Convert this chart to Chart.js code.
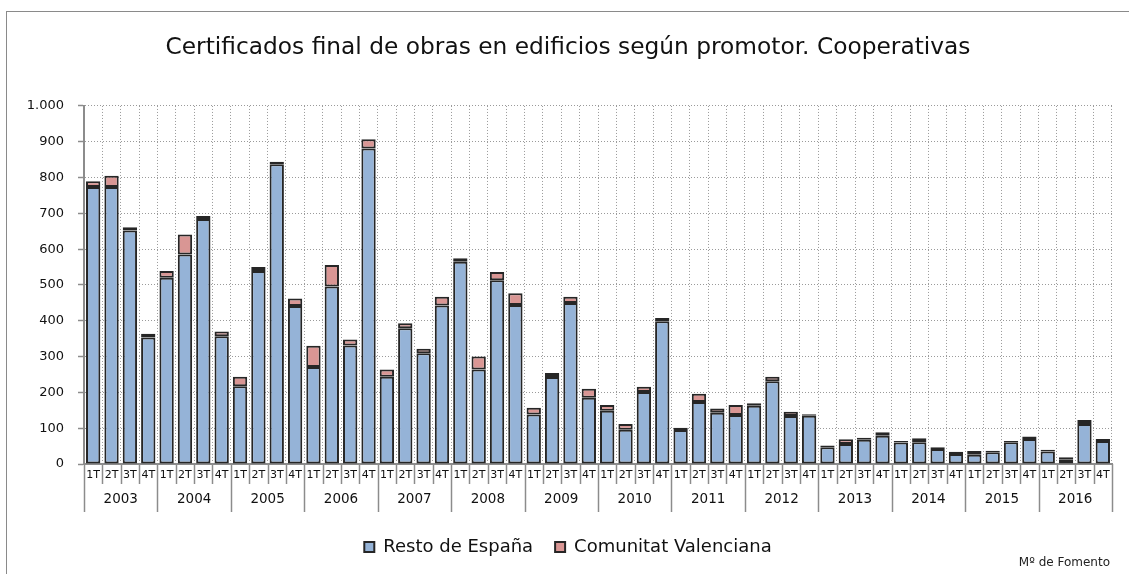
<!DOCTYPE html>
<html>
<head>
<meta charset="utf-8">
<script src="https://cdn.jsdelivr.net/npm/chart.js@4"></script>
<style>
  html, body { margin: 0; padding: 0; background: #fff; }
  #wrap { width: 1129px; height: 574px; }
</style>
</head>
<body>
<div id="wrap"><canvas id="chart"></canvas></div>
<script>
const quarters = ['1T', '2T', '3T', '4T'];
const years = ['2003', '2004', '2005', '2006', '2007', '2008', '2009', '2010', '2011', '2012', '2013', '2014', '2015', '2016'];
const restoEspana = [774, 774, 652, 353, 520, 585, 684, 357, 217, 539, 837, 441, 271, 496, 331, 881,
    244, 379, 309, 443, 565, 264, 513, 444, 138, 243, 450, 185, 149, 96, 201, 399,
    95, 173, 143, 137, 163, 231, 134, 135, 47, 56, 68, 79, 60, 61, 42, 28,
    26, 33, 61, 70, 35, 12, 112, 64];
const comunitatValenciana = [16, 31, 9, 11, 19, 56, 9, 13, 27, 11, 7, 21, 59, 60, 17, 26,
    20, 14, 13, 24, 10, 36, 23, 33, 19, 11, 17, 25, 16, 16, 15, 9,
    6, 23, 12, 28, 7, 13, 12, 4, 5, 13, 5, 10, 4, 11, 5, 6,
    10, 4, 3, 7, 5, 7, 11, 6];

const fontFamily = 'DejaVu Sans';
const axisGray = '#8c8c8c';
const labels = years.flatMap(year => quarters.map(q => q + ' ' + year));

const thousands = value => String(value).replace(/\B(?=(\d{3})+(?!\d))/g, '.');

// marco exterior, etiquetas agrupadas del eje X y la fuente
const decorations = {
    id: 'decorations',
    beforeDraw(chart) {
        const ctx = chart.ctx;
        ctx.save();
        ctx.strokeStyle = '#8a8a8a';
        ctx.lineWidth = 1;
        ctx.strokeRect(6.5, 11.5, chart.width + 20, chart.height + 20);
        ctx.restore();
    },
    afterDraw(chart) {
        const ctx = chart.ctx;
        const x = chart.scales.x;
        const top = chart.chartArea.bottom;
        const step = x.getPixelForValue(1) - x.getPixelForValue(0);
        ctx.save();
        ctx.strokeStyle = axisGray;
        ctx.lineWidth = 1.5;
        for (let i = 0; i <= labels.length; i++) {
            const px = Math.round(x.getPixelForValue(0) + (i - 0.5) * step) + 0.5;
            ctx.beginPath();
            ctx.moveTo(px, top);
            ctx.lineTo(px, top + (i % 4 === 0 ? 48 : 20));
            ctx.stroke();
        }
        ctx.fillStyle = '#111';
        ctx.textAlign = 'center';
        ctx.textBaseline = 'middle';
        ctx.font = '11px ' + fontFamily;
        labels.forEach((label, i) => {
            ctx.fillText(quarters[i % 4], x.getPixelForValue(i), top + 11);
        });
        ctx.font = '13.5px ' + fontFamily;
        years.forEach((year, k) => {
            const mid = (x.getPixelForValue(k * 4) + x.getPixelForValue(k * 4 + 3)) / 2;
            ctx.fillText(year, mid, top + 35);
        });
        ctx.textAlign = 'right';
        ctx.font = '12px ' + fontFamily;
        ctx.fillStyle = '#222';
        ctx.fillText('Mº de Fomento', 1110, 563);
        ctx.restore();
    },
};

new Chart(document.getElementById('chart'), {
    type: 'bar',
    data: {
        labels,
        datasets: [
            {
                label: 'Resto de España',
                data: restoEspana,
                backgroundColor: '#95b3d7',
                borderColor: '#262626',
                borderWidth: 2,
                borderSkipped: false,
                barPercentage: 0.78,
                categoryPercentage: 1,
            },
            {
                label: 'Comunitat Valenciana',
                data: comunitatValenciana,
                backgroundColor: '#d99694',
                borderColor: '#262626',
                borderWidth: 2,
                borderSkipped: false,
                barPercentage: 0.78,
                categoryPercentage: 1,
            },
        ],
    },
    options: {
        responsive: true,
        maintainAspectRatio: false,
        animation: false,
        layout: { padding: { left: 24, right: 17, top: 0, bottom: 8 } },
        plugins: {
            title: {
                display: true,
                text: 'Certificados final de obras en edificios según promotor. Cooperativas',
                color: '#111',
                font: { family: fontFamily, size: 23.3, weight: 'normal', lineHeight: 1.2 },
                padding: { top: 34, bottom: 44 },
            },
            legend: {
                position: 'bottom',
                labels: {
                    color: '#111',
                    font: { family: fontFamily, size: 18 },
                    boxWidth: 10,
                    boxHeight: 10,
                    padding: 22,
                },
            },
            tooltip: { enabled: false },
        },
        scales: {
            x: {
                stacked: true,
                afterFit: scale => { scale.height = 52; },
                ticks: { display: false },
                grid: { color: '#9a9a9a', lineWidth: 1, drawTicks: false, offset: true },
                border: { color: axisGray, width: 2, dash: [1, 2] },
            },
            y: {
                stacked: true,
                min: 0,
                max: 1000,
                afterFit: scale => { scale.width = 60; },
                ticks: {
                    stepSize: 100,
                    padding: 14,
                    color: '#111',
                    font: { family: fontFamily, size: 13 },
                    callback: value => thousands(value),
                },
                grid: { color: '#9a9a9a', lineWidth: 1, tickLength: 6, tickColor: axisGray, tickWidth: 1.5, tickBorderDash: [] },
                border: { color: axisGray, width: 2, dash: [1, 2] },
            },
        },
    },
    plugins: [decorations],
});
</script>
</body>
</html>
